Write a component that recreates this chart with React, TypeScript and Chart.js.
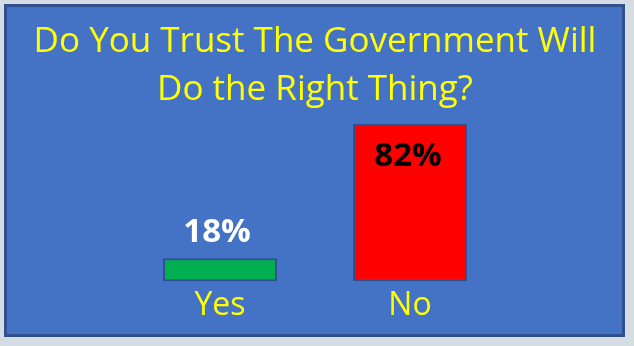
import React, { useEffect, useRef } from "react";
import { Chart, registerables } from "chart.js";

Chart.register(...registerables);

const titleLines = ["Do You Trust The Government Will", "Do the Right Thing?"];
const categories = ["Yes", "No"];
const values = [18, 82];
const valueLabels = ["18%", "82%"];
const barColors = ["#00b050", "#ff0000"];
const labelColors = ["#ffffff", "#000000"];
const Y_MIN = 7;
const Y_MAX = 82;

const FONT = "'Open Sans', 'DejaVu Sans', sans-serif";

const titlePlugin = {
  id: "customTitle",
  afterDraw(chart: any) {
    const ctx = chart.ctx;
    ctx.save();
    ctx.font = `35px ${FONT}`;
    ctx.fillStyle = "#ffff00";
    ctx.textAlign = "center";
    ctx.textBaseline = "alphabetic";
    titleLines.forEach((line, i) => {
      ctx.fillText(line, 315, 52 + i * 48);
    });
    ctx.restore();
  },
};

const dataLabelPlugin = {
  id: "dataLabels",
  afterDatasetsDraw(chart: any) {
    const ctx = chart.ctx;
    const meta = chart.getDatasetMeta(0);
    ctx.save();
    ctx.font = `bold 33px ${FONT}`;
    ctx.textAlign = "center";
    ctx.textBaseline = "alphabetic";
    meta.data.forEach((bar: any, i: number) => {
      const props = bar.getProps(["x", "y", "base"], true);
      const h = props.base - props.y;
      ctx.fillStyle = labelColors[i];
      if (h > 60) {
        ctx.fillText(valueLabels[i], props.x - 2, props.y + 42);
      } else {
        ctx.fillText(valueLabels[i], props.x - 3, props.y - 16);
      }
    });
    ctx.restore();
  },
};

export default function App() {
  const ref = useRef<HTMLCanvasElement>(null);
  useEffect(() => {
    if (!ref.current) return;
    const chart = new Chart(ref.current, {
      type: "bar",
      data: {
        labels: categories,
        datasets: [
          {
            data: values,
            base: Y_MIN,
            backgroundColor: barColors,
            borderColor: "#2f528f",
            borderWidth: 2,
            borderSkipped: false,
            barPercentage: 0.6,
            categoryPercentage: 1.0,
            clip: false as any,
          } as any,
        ],
      },
      options: {
        responsive: false,
        animation: false,
        events: [],
        layout: { padding: { left: 125, right: 129, top: 124, bottom: 16.3 } },
        plugins: {
          legend: { display: false },
          tooltip: { enabled: false },
          title: { display: false },
        },
        scales: {
          x: {
            grid: { display: false, drawTicks: false },
            border: { display: false },
            ticks: {
              color: "#ffff00",
              padding: 5,
              font: { family: FONT, size: 32, weight: "normal", lineHeight: 1.2 },
            },
          },
          y: {
            display: false,
            min: Y_MIN,
            max: Y_MAX,
          },
        },
      },
      plugins: [dataLabelPlugin, titlePlugin],
    });
    return () => chart.destroy();
  }, []);

  return (
    <div
      style={{
        position: "fixed",
        left: 0,
        top: 0,
        width: 634,
        height: 346,
        background: "#d6dce4",
        overflow: "hidden",
      }}
    >
      <div
        style={{
          position: "absolute",
          left: 4,
          top: 4,
          width: 621,
          height: 333,
          boxSizing: "border-box",
          background: "#4472c4",
          border: "3px solid #2f528f",
        }}
      />
      <canvas
        ref={ref}
        width={634}
        height={346}
        style={{ position: "absolute", left: 0, top: 0, width: 634, height: 346 }}
      />
    </div>
  );
}
